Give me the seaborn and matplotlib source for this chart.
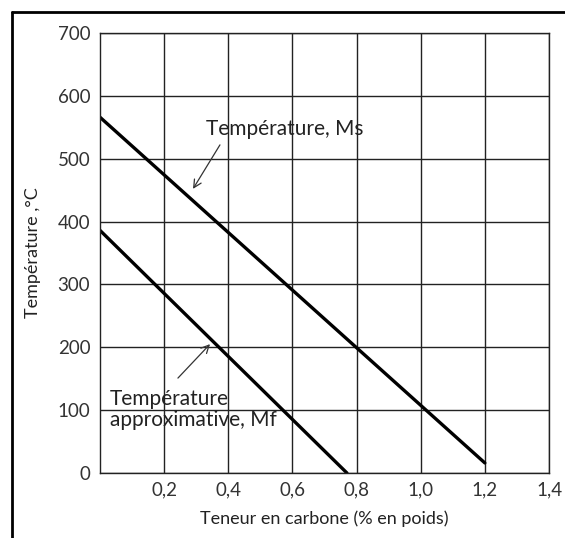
import matplotlib
matplotlib.use("Agg")
import matplotlib.pyplot as plt
import seaborn as sns
import pandas as pd
from matplotlib.lines import Line2D

sns.set_theme(style="white")
plt.rcParams['font.family'] = ['Lato', 'DejaVu Sans']

# Data
ms_carbon = [0.0, 1.2]
ms_temp = [566, 16]
mf_carbon = [0.0, 0.77]
mf_temp = [386, 0]
x_ticks = [0.2, 0.4, 0.6, 0.8, 1.0, 1.2, 1.4]
x_tick_labels = ["0,2", "0,4", "0,6", "0,8", "1,0", "1,2", "1,4"]
y_ticks = [0, 100, 200, 300, 400, 500, 600, 700]

df = pd.concat([
    pd.DataFrame({"carbon": ms_carbon, "temp": ms_temp, "serie": "Ms"}),
    pd.DataFrame({"carbon": mf_carbon, "temp": mf_temp, "serie": "Mf"}),
])

fig = plt.figure(figsize=(5.65, 5.38), dpi=100)
ax = fig.add_axes([100/565, 1 - 473/538, 449/565, 440/538])

sns.lineplot(data=df, x="carbon", y="temp", units="serie", estimator=None,
             color="black", linewidth=2.4, ax=ax, legend=False)

ax.set_xlim(0, 1.4)
ax.set_ylim(0, 700)
ax.set_xticks(x_ticks)
ax.set_xticklabels(x_tick_labels)
ax.set_yticks(y_ticks)
ax.grid(True, color="#222222", linewidth=1.0)
ax.set_axisbelow(True)
for s in ax.spines.values():
    s.set_color("#222222")
    s.set_linewidth(1.0)
ax.tick_params(axis="both", labelsize=13.5, colors="#333333", length=0, pad=7)
ax.tick_params(axis="x", pad=6)
ax.set_xlabel("Teneur en carbone (% en poids)", fontsize=13, color="#222222", labelpad=9)
ax.set_ylabel("Température ,°C", fontsize=13, color="#222222", labelpad=12)

ax.text(0.33, 547, "Température, Ms", fontsize=15, color="#222222",
        va="center", ha="left")
ax.annotate("", xy=(0.29, 452), xytext=(0.374, 522),
            arrowprops=dict(arrowstyle="->", color="#333333", lw=0.9,
                            shrinkA=0, shrinkB=0, mutation_scale=14))
ax.annotate("", xy=(0.343, 205), xytext=(0.243, 151),
            arrowprops=dict(arrowstyle="->", color="#333333", lw=0.9,
                            shrinkA=0, shrinkB=0, mutation_scale=14))
ax.text(0.03, 101, "Température\napproximative, Mf", fontsize=15,
        color="#222222", va="center", ha="left", linespacing=1.1)

# outer frame (top and left)
fig.add_artist(Line2D([12/565, 1], [1 - 12/538, 1 - 12/538], color="black",
                      lw=2, transform=fig.transFigure))
fig.add_artist(Line2D([12/565, 12/565], [0, 1 - 12/538], color="black",
                      lw=2, transform=fig.transFigure))

fig.savefig("out.png", dpi=100)
